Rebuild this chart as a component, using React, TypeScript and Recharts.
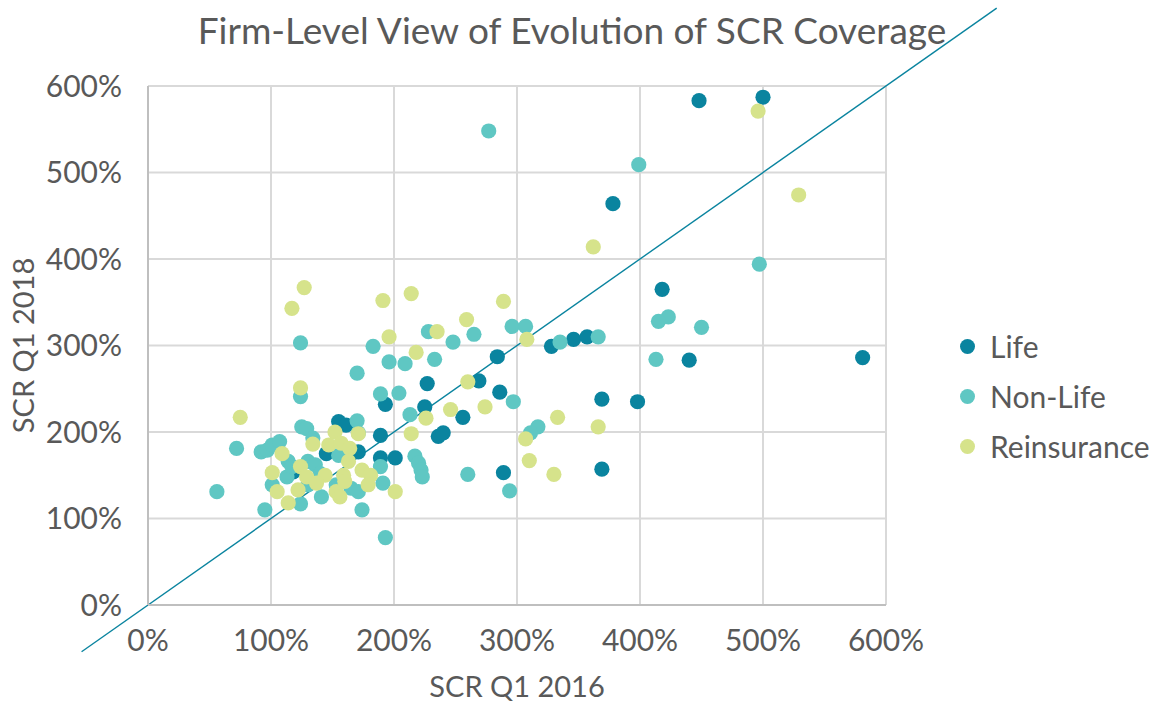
import React from "react";
import {
  ScatterChart,
  Scatter,
  XAxis,
  YAxis,
  CartesianGrid,
  ReferenceLine,
} from "recharts";

// Values in percent: [SCR Q1 2016, SCR Q1 2018]
const lifeData: [number, number][] = [
  [448, 583], [500, 587], [378, 464], [418, 365], [440, 283], [581, 286],
  [328, 299], [346, 307], [357, 310], [284, 287], [369, 238], [398, 235],
  [369, 157], [289, 153], [286, 246], [269, 259], [227, 256], [225, 229],
  [256, 217], [236, 195], [240, 199], [193, 232], [189, 196], [155, 212],
  [161, 208], [145, 175], [171, 177], [189, 170], [201, 170], [118, 154],
];

const nonLifeData: [number, number][] = [
  [277, 548], [399, 509], [497, 394], [423, 333], [415, 328], [450, 321],
  [413, 284], [366, 310], [335, 304], [296, 322], [307, 322], [265, 313],
  [228, 316], [248, 304], [209, 279], [233, 284], [183, 299], [196, 281],
  [170, 268], [189, 244], [204, 245], [297, 235], [317, 206], [311, 199],
  [294, 132], [260, 151], [217, 172], [220, 164], [222, 156], [223, 148],
  [213, 220], [124, 303], [124, 241], [125, 206], [129, 204], [72, 181],
  [92, 177], [97, 179], [101, 185], [107, 189], [56, 131], [95, 110],
  [124, 117], [101, 139], [113, 148], [114, 166], [117, 160], [130, 166],
  [136, 162], [140, 152], [134, 193], [170, 213], [171, 199], [155, 173],
  [189, 160], [130, 139], [141, 125], [153, 139], [165, 135], [171, 131],
  [191, 141], [174, 110], [193, 78],
];

const reinsuranceData: [number, number][] = [
  [496, 571], [529, 474], [362, 414], [214, 360], [289, 351], [259, 330],
  [127, 367], [117, 343], [191, 352], [235, 316], [196, 310], [218, 292],
  [308, 307], [260, 258], [274, 229], [246, 226], [226, 216], [214, 198],
  [333, 217], [366, 206], [307, 192], [310, 167], [330, 151], [124, 251],
  [75, 217], [109, 175], [134, 186], [152, 200], [147, 185], [157, 187],
  [164, 181], [171, 198], [163, 166], [174, 156], [181, 150], [101, 153],
  [124, 160], [129, 148], [144, 150], [159, 150], [105, 131], [122, 133],
  [137, 141], [153, 131], [156, 125], [160, 143], [179, 139], [201, 131],
  [114, 118],
];

const axisTicks = [0, 100, 200, 300, 400, 500, 600];
const parityLine = [-54, 690];

const seriesNames = ["Life", "Non-Life", "Reinsurance"];
const seriesColors = ["#0A849F", "#5FC7C3", "#D6E38B"];

const toPoints = (arr: [number, number][]) => arr.map(([x, y]) => ({ x, y }));

const FONT = "Lato, 'Open Sans', sans-serif";
const TEXT = "#595959";

const dot = (color: string) => (p: any) => (
  <circle cx={p.cx} cy={p.cy} r={7.6} fill={color} />
);

const LegendBox = () => (
  <div
    style={{
      position: "absolute",
      left: 960,
      top: 321,
      fontFamily: FONT,
      color: TEXT,
      fontSize: 30,
    }}
  >
    {seriesNames.map((n, i) => (
      <div
        key={n}
        style={{ display: "flex", alignItems: "center", height: 50 }}
      >
        <span
          style={{
            width: 15,
            height: 15,
            borderRadius: "50%",
            background: seriesColors[i],
            display: "inline-block",
            marginRight: 15,
          }}
        />
        <span>{n}</span>
      </div>
    ))}
  </div>
);

export default function App() {
  const all = [lifeData, nonLifeData, reinsuranceData];
  return (
    <div
      style={{
        position: "absolute",
        left: 0,
        top: 0,
        width: 1156,
        height: 702,
        background: "#fff",
      }}
    >
      <div
        style={{
          position: "absolute",
          left: 0,
          top: 6,
          width: 1144,
          textAlign: "center",
          fontFamily: FONT,
          fontSize: 37,
          lineHeight: "48px",
          color: TEXT,
        }}
      >
        Firm-Level View of Evolution of SCR Coverage
      </div>
      <ScatterChart
        width={1156}
        height={702}
        margin={{ top: 86, right: 270, bottom: 0, left: 0 }}
        style={{ fontFamily: FONT, position: "absolute", left: 0, top: 0 }}
      >
        <CartesianGrid stroke="#D9D9D9" strokeWidth={2} />
        <XAxis
          type="number"
          dataKey="x"
          domain={[0, 600]}
          ticks={axisTicks}
          tickFormatter={(v) => `${v}%`}
          axisLine={{ stroke: "#BFBFBF", strokeWidth: 2 }}
          tickLine={false}
          tickSize={0}
          tickMargin={25}
          tick={{ fill: TEXT, fontSize: 30, fontFamily: FONT }}
          height={97}
          label={{
            value: "SCR Q1 2016",
            position: "insideBottom",
            offset: 5,
            fill: TEXT,
            fontSize: 29,
            fontFamily: FONT,
          }}
          allowDataOverflow
        />
        <YAxis
          type="number"
          dataKey="y"
          domain={[0, 600]}
          ticks={axisTicks}
          tickFormatter={(v) => `${v}%`}
          axisLine={{ stroke: "#BFBFBF", strokeWidth: 2 }}
          tickLine={false}
          tickSize={0}
          tickMargin={26}
          tick={{ fill: TEXT, fontSize: 30, fontFamily: FONT }}
          width={148}
          label={{
            value: "SCR Q1 2018",
            angle: -90,
            position: "insideLeft",
            offset: 24,
            style: { textAnchor: "middle" },
            fill: TEXT,
            fontSize: 29,
            fontFamily: FONT,
          }}
          allowDataOverflow
        />
        {all.map((d, i) => (
          <Scatter
            key={seriesNames[i]}
            name={seriesNames[i]}
            data={toPoints(d)}
            fill={seriesColors[i]}
            shape={dot(seriesColors[i])}
            isAnimationActive={false}
          />
        ))}
        <ReferenceLine
          segment={[
            { x: parityLine[0], y: parityLine[0] },
            { x: parityLine[1], y: parityLine[1] },
          ]}
          stroke="#0A849F"
          strokeWidth={1.4}
          ifOverflow="visible"
        />
      </ScatterChart>
      <LegendBox />
    </div>
  );
}
